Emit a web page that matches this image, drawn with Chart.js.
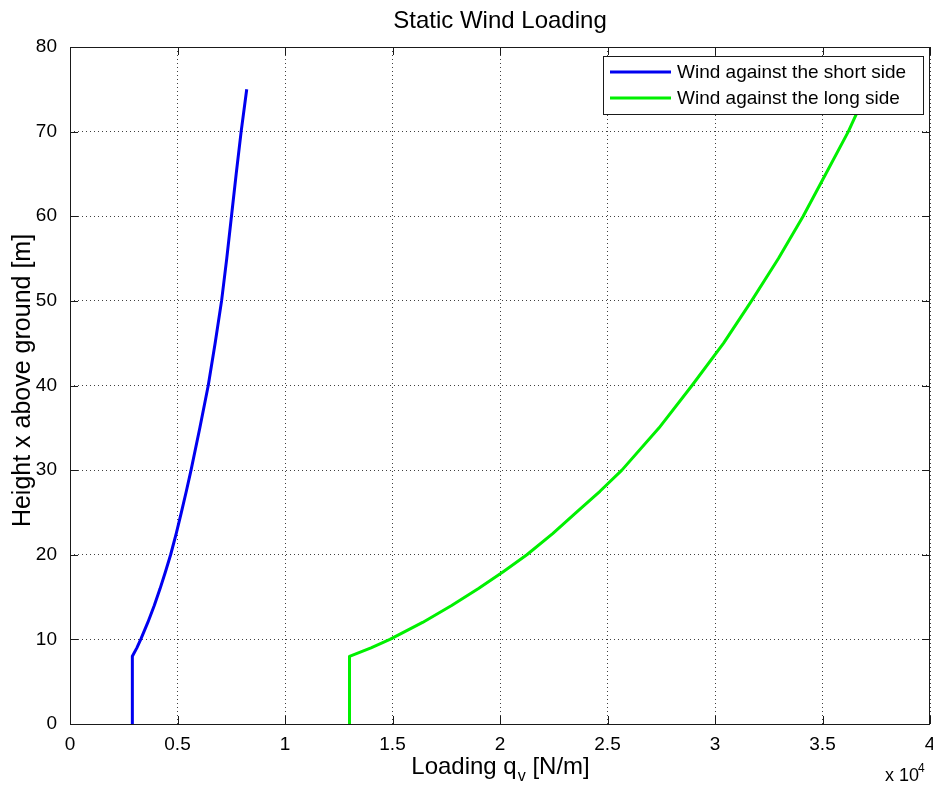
<!DOCTYPE html>
<html>
<head>
<meta charset="utf-8">
<title>Static Wind Loading</title>
<script src="https://cdn.jsdelivr.net/npm/chart.js@4/dist/chart.umd.min.js"></script>
<style>
  html, body { margin: 0; padding: 0; background: #fff; }
  #wrap { width: 933px; height: 787px; position: relative; }
</style>
</head>
<body>
<div id="wrap"><canvas id="windChart" width="933" height="787"></canvas></div>
<script>
/* ── DATA ─────────────────────────────────────────────── */
// height above ground [m]
const heights = [0, 8, 9, 10, 12, 14, 16, 18, 20, 22.5, 25, 27.5, 30, 35, 40, 45, 50, 55, 60, 65, 70, 75];
// loading q_v [N/m], wind against the short side
const shortSide = [2900, 2900, 3110, 3290, 3620, 3920, 4190, 4440, 4680, 4940, 5180, 5410, 5630,
                   6040, 6430, 6750, 7050, 7290, 7510, 7730, 7960, 8220];
// loading q_v [N/m], wind against the long side
const longSide = [13000, 13000, 14000, 14880, 16400, 17750, 19000, 20150, 21250, 22450, 23550, 24650, 25670,
                  27400, 28930, 30400, 31700, 32950, 34100, 35150, 36200, 37100];

const seriesLabels = ['Wind against the short side', 'Wind against the long side'];
const seriesColors = ['#0000f0', '#00f000'];
const xTicks = [0, 5000, 10000, 15000, 20000, 25000, 30000, 35000, 40000];
const yTicks = [0, 10, 20, 30, 40, 50, 60, 70, 80];

const FONT = "'Liberation Sans', Arial, Helvetica, sans-serif";
const AXIS_COLOR = '#1a1a1a';

const toPoints = (xs) => xs.map((x, i) => ({ x: x, y: heights[i] }));

/* ── DECORATIONS: box, inward ticks, legend, labels ───── */
const matlabAxes = {
  id: 'matlabAxes',
  afterDatasetsDraw(chart) {
    const { ctx, chartArea: a, scales } = chart;
    const tl = 8;
    ctx.save();
    ctx.strokeStyle = AXIS_COLOR;
    ctx.lineWidth = 1;
    ctx.beginPath();
    xTicks.forEach(v => {
      const px = Math.round(scales.x.getPixelForValue(v)) + 0.5;
      ctx.moveTo(px, a.bottom); ctx.lineTo(px, a.bottom - tl);
      ctx.moveTo(px, a.top); ctx.lineTo(px, a.top + tl);
    });
    yTicks.forEach(v => {
      const py = Math.round(scales.y.getPixelForValue(v)) + 0.5;
      ctx.moveTo(a.left, py); ctx.lineTo(a.left + tl, py);
      ctx.moveTo(a.right, py); ctx.lineTo(a.right - tl, py);
    });
    ctx.stroke();
    ctx.strokeRect(Math.round(a.left) + 0.5, Math.round(a.top) + 0.5,
                   Math.round(a.right - a.left) - 1, Math.round(a.bottom - a.top));

    // legend box in the upper right corner
    const lx = 603, ly = 56, lw = 320, lh = 58;
    ctx.fillStyle = '#fff';
    ctx.fillRect(lx, ly, lw, lh);
    ctx.strokeRect(lx + 0.5, ly + 0.5, lw, lh);
    ctx.font = '19px ' + FONT;
    ctx.textBaseline = 'middle';
    ctx.textAlign = 'left';
    chart.data.datasets.forEach((ds, i) => {
      const yy = ly + 16 + i * 26;
      ctx.strokeStyle = ds.borderColor;
      ctx.lineWidth = 3;
      ctx.beginPath();
      ctx.moveTo(lx + 7, yy); ctx.lineTo(lx + 68, yy);
      ctx.stroke();
      ctx.fillStyle = '#000';
      ctx.fillText(ds.label, lx + 74, yy + 1);
    });
    ctx.restore();
  },
  afterDraw(chart) {
    const { ctx, chartArea: a } = chart;
    ctx.save();
    ctx.fillStyle = '#000';
    ctx.textBaseline = 'alphabetic';

    // title
    ctx.font = '24px ' + FONT;
    ctx.textAlign = 'center';
    ctx.fillText('Static Wind Loading', (a.left + a.right) / 2, 28);

    // x axis title with subscript
    const big = '24px ' + FONT, small = '16px ' + FONT;
    const p1 = 'Loading q', p2 = 'v', p3 = ' [N/m]';
    ctx.font = big; const w1 = ctx.measureText(p1).width, w3 = ctx.measureText(p3).width;
    ctx.font = small; const w2 = ctx.measureText(p2).width;
    const x0 = (a.left + a.right) / 2 - (w1 + w2 + w3) / 2;
    const base = 774;
    ctx.textAlign = 'left';
    ctx.font = big; ctx.fillText(p1, x0, base);
    ctx.font = small; ctx.fillText(p2, x0 + w1 + 1, base + 7);
    ctx.font = big; ctx.fillText(p3, x0 + w1 + w2 + 1, base);

    // exponent note under the right end of the x axis
    ctx.font = '18px ' + FONT;
    ctx.fillText('x 10', 885, 781);
    ctx.font = '12px ' + FONT;
    ctx.fillText('4', 918, 772);

    // y axis title
    ctx.translate(30, (a.top + a.bottom) / 2 - 5);
    ctx.rotate(-Math.PI / 2);
    ctx.textAlign = 'center';
    ctx.font = '25px ' + FONT;
    ctx.fillText('Height x above ground [m]', 0, 0);
    ctx.restore();
  }
};

/* ── CHART ────────────────────────────────────────────── */
new Chart(document.getElementById('windChart'), {
  type: 'scatter',
  data: {
    datasets: [
      { label: seriesLabels[0], data: toPoints(shortSide), borderColor: seriesColors[0] },
      { label: seriesLabels[1], data: toPoints(longSide), borderColor: seriesColors[1] },
    ].map(ds => Object.assign(ds, {
      showLine: true,
      borderWidth: 3,
      pointRadius: 0,
      tension: 0,
      borderJoinStyle: 'round',
      fill: false,
    })),
  },
  options: {
    responsive: false,
    animation: false,
    events: [],
    layout: { padding: { top: 47, right: 3, left: 0, bottom: 0 } },
    plugins: {
      legend: { display: false },
      title: { display: false },
      tooltip: { enabled: false },
    },
    scales: {
      x: {
        type: 'linear',
        min: 0,
        max: 40000,
        afterBuildTicks: s => { s.ticks = xTicks.map(v => ({ value: v })); },
        afterFit: s => { s.height = 63; s.paddingLeft = 0; s.paddingRight = 0; },
        border: { display: false, dash: [1, 3] },
        grid: { color: 'rgba(0,0,0,0.75)', drawTicks: false, lineWidth: 1 },
        ticks: {
          color: '#000',
          padding: 9,
          maxRotation: 0,
          autoSkip: false,
          font: { size: 19, family: FONT },
          callback: v => String(v / 10000),
        },
      },
      y: {
        type: 'linear',
        min: 0,
        max: 80,
        afterBuildTicks: s => { s.ticks = yTicks.map(v => ({ value: v })); },
        afterFit: s => { s.width = 70; s.paddingTop = 0; s.paddingBottom = 0; },
        border: { display: false, dash: [1, 3] },
        grid: { color: 'rgba(0,0,0,0.75)', drawTicks: false, lineWidth: 1 },
        ticks: {
          color: '#000',
          padding: 13,
          autoSkip: false,
          font: { size: 19, family: FONT },
        },
      },
    },
  },
  plugins: [matlabAxes],
});
</script>
</body>
</html>
